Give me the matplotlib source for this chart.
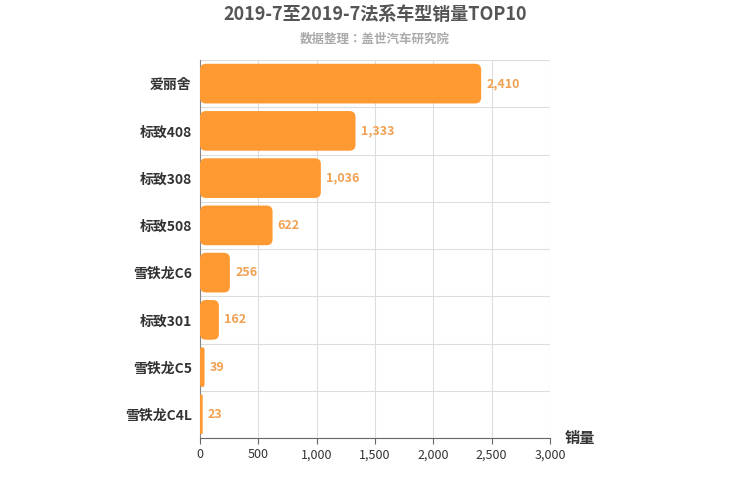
import matplotlib.pyplot as plt
from matplotlib import font_manager
from matplotlib.patches import FancyBboxPatch

# pick whichever CJK font is registered
names = sorted({f.name for f in font_manager.fontManager.ttflist})
cjk = [n for n in names if 'CJK' in n]
plt.rcParams['font.family'] = ['sans-serif']
plt.rcParams['font.sans-serif'] = ['Noto Sans CJK SC'] + cjk + ['DejaVu Sans']

models = ['爱丽舍', '标致408', '标致308', '标致508', '雪铁龙C6', '标致301', '雪铁龙C5', '雪铁龙C4L']
sales = [2410, 1333, 1036, 622, 256, 162, 39, 23]
xticks = [0, 500, 1000, 1500, 2000, 2500, 3000]

fig = plt.figure(figsize=(7.5, 5), dpi=100)
ax = fig.add_axes([200 / 750, 1 - 438 / 500, 350 / 750, 378 / 500])

n = len(models)
ax.set_xlim(0, 3000)
ax.set_ylim(n - 0.5, -0.5)

# rounded bars
px_x = 3000 / 350
px_y = n / 378
r = 6 * px_x
for i, v in enumerate(sales):
    h = 0.84
    patch = FancyBboxPatch((0, i - h / 2), v, h,
                           boxstyle=f'round,pad=0,rounding_size={min(r, v / 2)}',
                           mutation_aspect=px_y / px_x,
                           facecolor='#ff9a33', edgecolor='none', zorder=3)
    ax.add_patch(patch)
    ax.text(v + 45, i, f'{v:,}', va='center', ha='left', fontsize=9,
            color='#f0a050', fontweight='bold', zorder=4)

ax.set_yticks(range(n))
ax.set_yticklabels(models, fontsize=10, fontweight='bold', color='#333333')
ax.set_xticks(xticks)
ax.set_xticklabels([f'{t:,}' for t in xticks], fontsize=9, color='#333333')
for b in [i + 0.5 for i in range(-1, n)]:
    ax.axhline(b, color='#dddddd', lw=0.8, zorder=1)
for t in xticks:
    ax.axvline(t, color='#dddddd', lw=0.8, zorder=1)
ax.tick_params(axis='y', length=0, pad=6)
ax.tick_params(axis='x', length=4, color='#666666')
for s in ['top', 'right']:
    ax.spines[s].set_visible(False)
ax.spines['left'].set_color('#888888')
ax.spines['bottom'].set_color('#666666')

fig.text(580 / 750, 1 - 438 / 500, '销量', fontsize=11, fontweight='bold', color='#333333', ha='center', va='center')
fig.text(375 / 750, 1 - 14 / 500, '2019-7至2019-7法系车型销量TOP10', fontsize=13, fontweight='bold',
         color='#555555', ha='center', va='center')
fig.text(375 / 750, 1 - 39 / 500, '数据整理：盖世汽车研究院', fontsize=9, fontweight='bold',
         color='#aaaaaa', ha='center', va='center')

fig.savefig('out.png', dpi=100)
